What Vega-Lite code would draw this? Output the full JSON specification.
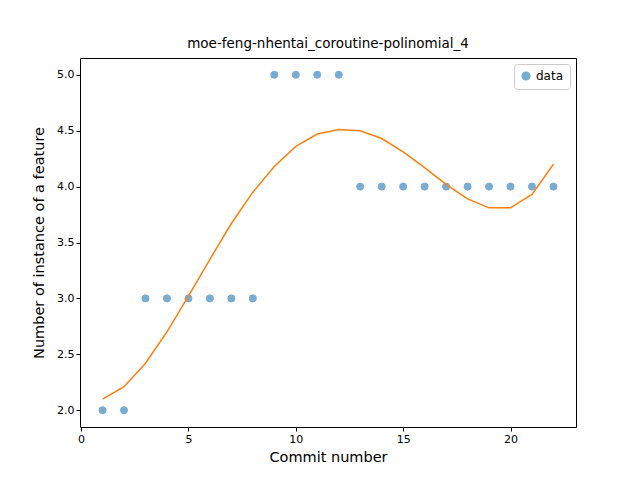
{
  "$schema": "https://vega.github.io/schema/vega-lite/v6.json",
  "autosize": "none",
  "width": 496,
  "height": 369,
  "padding": {"left": 80, "top": 58, "right": 64, "bottom": 53},
  "background": "white",
  "title": {"text": "moe-feng-nhentai_coroutine-polinomial_4", "font": "DejaVu Sans", "fontSize": 13.5, "fontWeight": "normal", "offset": 8},
  "config": {
    "font": "DejaVu Sans",
    "view": {"stroke": "black", "strokeWidth": 1},
    "axis": {"grid": false, "domain": false, "tickColor": "black", "tickSize": 4, "labelFontSize": 11, "labelColor": "black", "titleFontSize": 14.5, "titleFontWeight": "normal", "titleColor": "black"}
  },
  "datasets": {
    "pts": [
      {"x": 1, "y": 2, "s": "data"}, {"x": 2, "y": 2, "s": "data"}, {"x": 3, "y": 3, "s": "data"}, {"x": 4, "y": 3, "s": "data"},
      {"x": 5, "y": 3, "s": "data"}, {"x": 6, "y": 3, "s": "data"}, {"x": 7, "y": 3, "s": "data"}, {"x": 8, "y": 3, "s": "data"},
      {"x": 9, "y": 5, "s": "data"}, {"x": 10, "y": 5, "s": "data"}, {"x": 11, "y": 5, "s": "data"}, {"x": 12, "y": 5, "s": "data"},
      {"x": 13, "y": 4, "s": "data"}, {"x": 14, "y": 4, "s": "data"}, {"x": 15, "y": 4, "s": "data"}, {"x": 16, "y": 4, "s": "data"},
      {"x": 17, "y": 4, "s": "data"}, {"x": 18, "y": 4, "s": "data"}, {"x": 19, "y": 4, "s": "data"}, {"x": 20, "y": 4, "s": "data"},
      {"x": 21, "y": 4, "s": "data"}, {"x": 22, "y": 4, "s": "data"}
    ],
    "fit": [
      {"x": 1, "y": 2.10}, {"x": 2, "y": 2.21}, {"x": 3, "y": 2.42}, {"x": 4, "y": 2.70}, {"x": 5, "y": 3.02},
      {"x": 6, "y": 3.35}, {"x": 7, "y": 3.67}, {"x": 8, "y": 3.95}, {"x": 9, "y": 4.18}, {"x": 10, "y": 4.36},
      {"x": 11, "y": 4.47}, {"x": 12, "y": 4.51}, {"x": 13, "y": 4.50}, {"x": 14, "y": 4.43}, {"x": 15, "y": 4.31},
      {"x": 16, "y": 4.17}, {"x": 17, "y": 4.02}, {"x": 18, "y": 3.89}, {"x": 19, "y": 3.81}, {"x": 20, "y": 3.81},
      {"x": 21, "y": 3.93}, {"x": 22, "y": 4.20}
    ]
  },
  "encoding": {
    "x": {"field": "x", "type": "quantitative", "title": "Commit number", "scale": {"domain": [-0.05, 23.05], "nice": false, "zero": false}, "axis": {"values": [0, 5, 10, 15, 20], "titlePadding": 6}},
    "y": {"field": "y", "type": "quantitative", "title": "Number of instance of a feature", "scale": {"domain": [1.85, 5.15], "nice": false, "zero": false}, "axis": {"values": [2, 2.5, 3, 3.5, 4, 4.5, 5], "format": ".1f", "titlePadding": 10}}
  },
  "layer": [
    {
      "data": {"name": "pts"},
      "mark": {"type": "point", "filled": true, "size": 50, "opacity": 0.6, "stroke": "#1f77b4", "strokeWidth": 1},
      "encoding": {
        "color": {"field": "s", "type": "nominal", "scale": {"range": ["#1f77b4"]},
          "legend": {"title": null, "orient": "top-right", "labelFontSize": 12, "symbolSize": 60, "strokeColor": "#cccccc", "fillColor": "white", "padding": 6, "cornerRadius": 3, "offset": 6}}
      }
    },
    {
      "data": {"name": "fit"},
      "mark": {"type": "line", "color": "#ff7f0e", "strokeWidth": 1.5},
      "encoding": {}
    }
  ]
}
